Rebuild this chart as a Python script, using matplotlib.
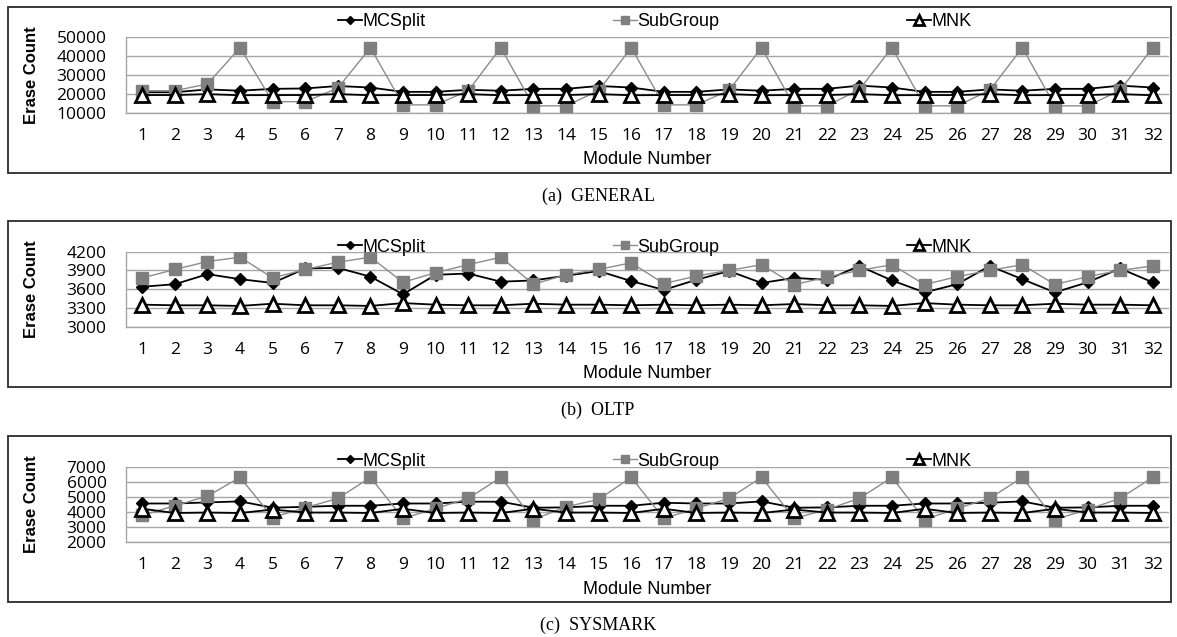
import matplotlib
matplotlib.use("Agg")
import matplotlib.pyplot as plt
from matplotlib.patches import Rectangle
import numpy as np

# ---------------- data ----------------
modules = list(range(1, 33))
module_labels = [str(m) for m in modules]
series_names = ["MCSplit", "SubGroup", "MNK"]

mc_general = [21000, 21000, 22500, 21800, 22800, 23000, 24300, 23500,
              21200, 21200, 22300, 21800, 22800, 22800, 24300, 23500,
              21200, 21200, 22500, 21800, 22800, 22800, 24500, 23500,
              21200, 21200, 22500, 21800, 22800, 22800, 24500, 23500]
sub_general = [21800, 21800, 25400, 44600, 16000, 16000, 23200, 44600,
               14300, 14300, 21800, 44600, 13800, 13800, 21800, 44600,
               14300, 14300, 22000, 44600, 13800, 13800, 22400, 44600,
               13800, 13800, 22000, 44600, 13800, 13800, 22000, 44600]
mnk_general = [19500, 19500, 20000, 19400, 19500, 19500, 20000, 19400,
               19500, 19500, 20000, 19400, 19500, 19500, 20000, 19400,
               19500, 19500, 20000, 19400, 19500, 19500, 20000, 19400,
               19500, 19500, 20000, 19400, 19500, 19500, 20000, 19400]

mc_oltp = [3640, 3680, 3840, 3760, 3700, 3930, 3940, 3800,
           3520, 3830, 3850, 3720, 3740, 3815, 3890, 3730,
           3590, 3750, 3890, 3700, 3780, 3750, 3970, 3740,
           3550, 3680, 3970, 3760, 3550, 3710, 3930, 3710]
sub_oltp = [3780, 3915, 4040, 4110, 3780, 3915, 4030, 4110,
            3710, 3865, 3990, 4110, 3680, 3830, 3915, 4020,
            3690, 3810, 3900, 3990, 3675, 3790, 3900, 3990,
            3675, 3800, 3900, 3990, 3675, 3800, 3900, 3970]
mnk_oltp = [3355, 3345, 3345, 3335, 3370, 3345, 3345, 3335,
            3380, 3355, 3345, 3345, 3370, 3355, 3355, 3345,
            3355, 3345, 3355, 3345, 3365, 3345, 3345, 3335,
            3380, 3355, 3345, 3345, 3370, 3355, 3355, 3345]

mc_sys = [4550, 4550, 4620, 4690, 4270, 4330, 4400, 4400,
          4550, 4550, 4670, 4670, 4270, 4290, 4400, 4400,
          4600, 4550, 4550, 4690, 4270, 4290, 4400, 4400,
          4550, 4550, 4600, 4690, 4270, 4290, 4400, 4400]
sub_sys = [3780, 4400, 5040, 6280, 3620, 4270, 4890, 6280,
           3560, 4220, 4890, 6280, 3490, 4330, 4820, 6280,
           3560, 4220, 4890, 6280, 3560, 4150, 4890, 6280,
           3490, 4220, 4890, 6280, 3490, 4150, 4890, 6280]
mnk_sys = [4200, 3920, 3950, 3920, 4150, 3950, 3950, 3920,
           4200, 3920, 3950, 3920, 4200, 3950, 3950, 3920,
           4200, 3920, 3950, 3920, 4150, 3950, 3950, 3920,
           4200, 3920, 3950, 3920, 4200, 3950, 3950, 3920]

captions = ["(a)  GENERAL", "(b)  OLTP", "(c)  SYSMARK"]
y_ranges = [(10000, 50000, 10000), (3000, 4200, 300), (2000, 7000, 1000)]
panels = [(mc_general, sub_general, mnk_general),
          (mc_oltp, sub_oltp, mnk_oltp),
          (mc_sys, sub_sys, mnk_sys)]

# ---------------- layout (pixels) ----------------
W, H = 1177, 637
fig = plt.figure(figsize=(W / 100, H / 100), dpi=100)


def fx(px):
    return px / W


def fy(py):
    return 1 - py / H


box_tops = [7, 221, 436]
box_h = 166
plot_offsets = 30.5
plot_h = 75.5
legend_offsets = [15, 26, 25]
caption_y = [196, 410, 625]
plot_left, plot_right = 126, 1169

tick_font = "Open Sans"
arial = "Liberation Sans"
grid_col = "#a6a6a6"

for i, (mc, sub, mnk) in enumerate(panels):
    bt = box_tops[i]
    # panel frame
    fig.patches.append(Rectangle((fx(8), fy(bt + box_h)), fx(1171) - fx(8), box_h / H,
                                 transform=fig.transFigure, fill=False,
                                 edgecolor="#2b2b2b", lw=1.3, zorder=0))
    ptop = bt + plot_offsets
    ax = fig.add_axes([fx(plot_left), fy(ptop + plot_h), fx(plot_right) - fx(plot_left), plot_h / H])
    ymin, ymax, step = y_ranges[i]
    l1, = ax.plot(modules, mc, color="black", lw=1.3, marker="D", ms=6.2,
                  mfc="black", mec="black", zorder=3, label=series_names[0])
    l2, = ax.plot(modules, sub, color="#8c8c8c", lw=1.0, marker="s", ms=8,
                  mfc="#7f7f7f", mec="#7f7f7f", zorder=4, label=series_names[1])
    l3, = ax.plot(modules, mnk, color="black", lw=1.3, marker="^", ms=9.5,
                  mfc="white", mec="black", mew=2.0, zorder=5, label=series_names[2])
    ax.set_xlim(0.5, 32.5)
    ax.set_ylim(ymin, ymax)
    ax.set_yticks(np.arange(ymin, ymax + step / 2, step))
    ax.set_xticks(modules)
    ax.set_xticklabels(module_labels)
    ax.yaxis.grid(True, color=grid_col, lw=1.0)
    ax.set_axisbelow(True)
    for s in ["top", "right"]:
        ax.spines[s].set_visible(False)
    for s in ["left", "bottom"]:
        ax.spines[s].set_color(grid_col)
        ax.spines[s].set_linewidth(1.0)
    ax.tick_params(axis="both", length=0, labelsize=12.5, colors="black")
    ax.tick_params(axis="x", pad=11)
    ax.tick_params(axis="y", pad=14)
    for lab in ax.get_xticklabels() + ax.get_yticklabels():
        lab.set_fontfamily(tick_font)
    ax.set_facecolor("none")

    # axis titles
    pcy = ptop + plot_h / 2
    fig.text(fx(31), fy(pcy), "Erase Count", rotation=90, ha="center", va="center",
             fontsize=12, fontweight="bold", family=arial)
    fig.text(fx((plot_left + plot_right) / 2), fy(bt + 153), "Module Number",
             ha="center", va="center", fontsize=13, family=arial)

    # legend
    leg = ax.legend(handles=[l1, l2, l3], loc="center", ncol=3,
                    bbox_to_anchor=(fx(655), fy(bt + legend_offsets[i])),
                    bbox_transform=fig.transFigure, frameon=False,
                    prop={"family": arial, "size": 13}, handlelength=1.3,
                    handletextpad=0.05, columnspacing=10.4, borderpad=0,
                    borderaxespad=0, markerscale=0.72)

    fig.text(fx(598), fy(caption_y[i]), captions[i], ha="center", va="center",
             fontsize=13, family="Liberation Serif")

fig.savefig("out.png", dpi=100)
